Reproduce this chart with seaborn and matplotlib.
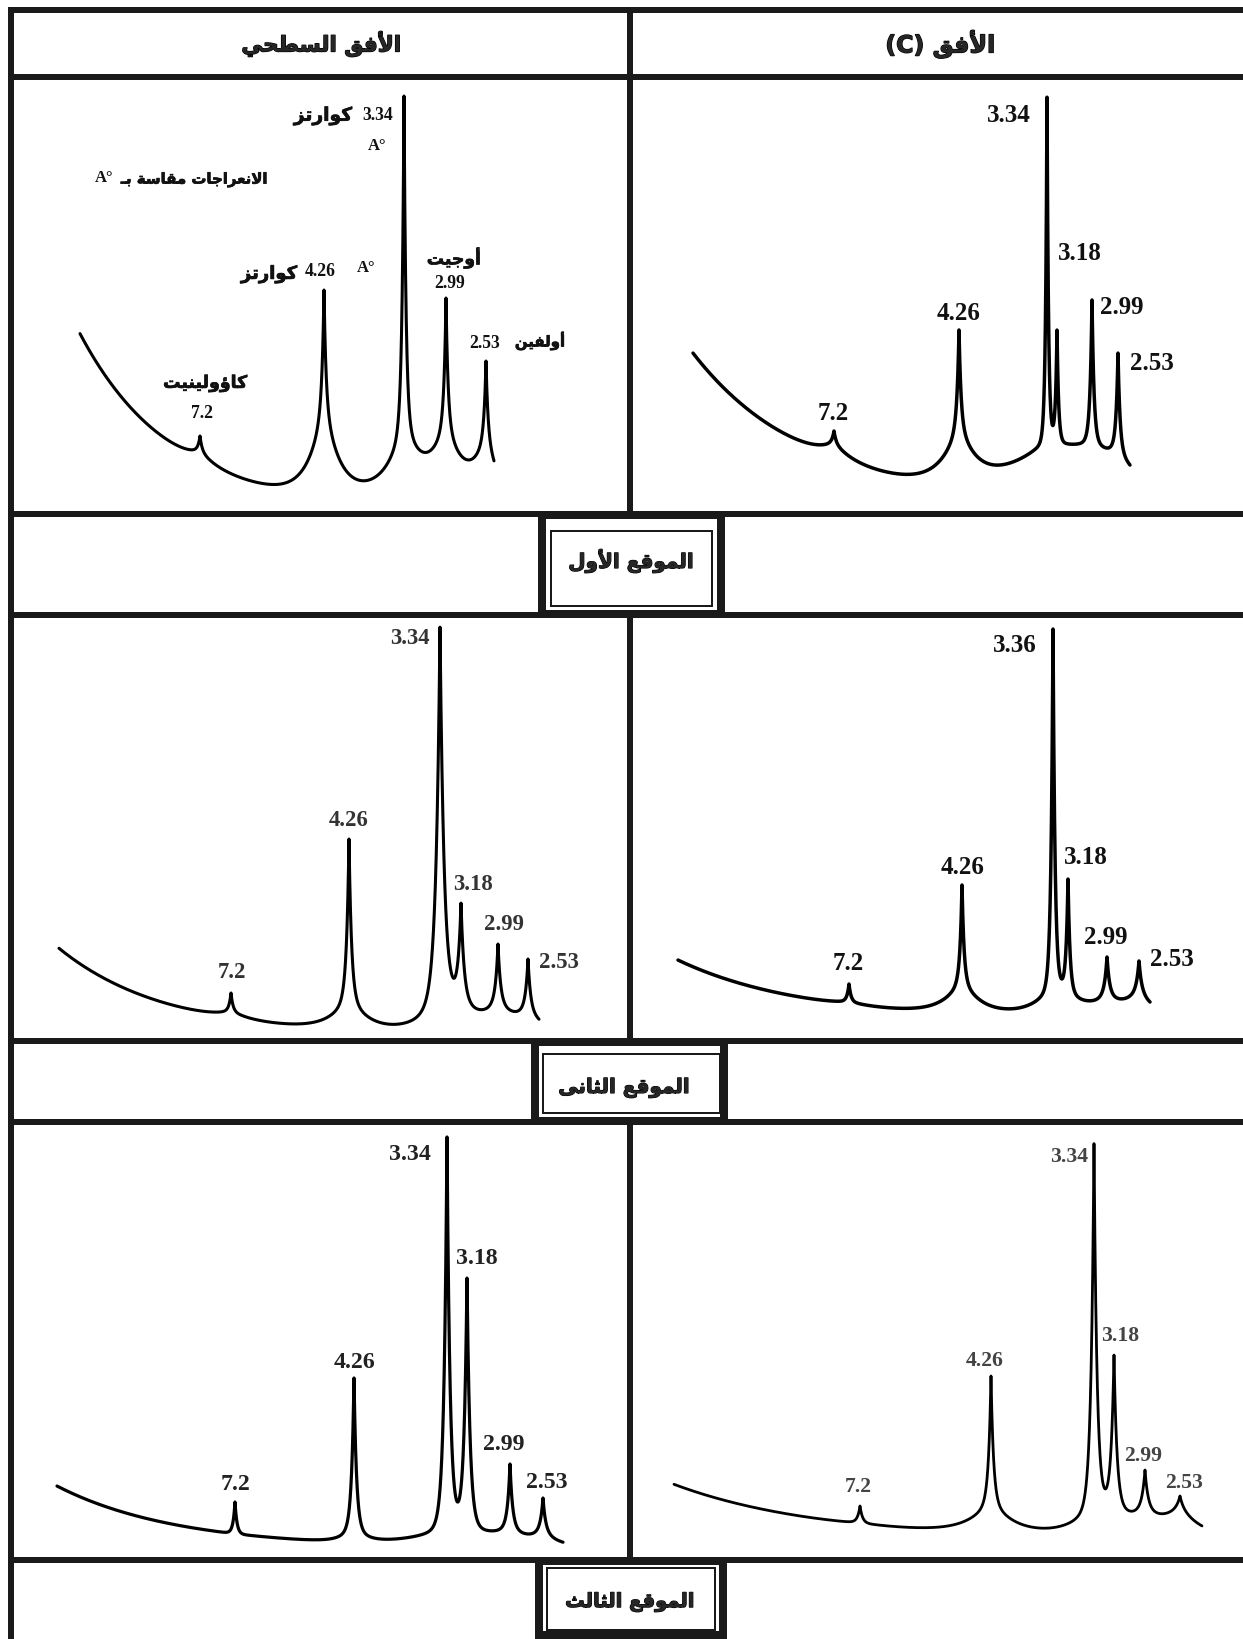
import re
import numpy as np
import matplotlib
matplotlib.use("Agg")
import matplotlib.pyplot as plt
import matplotlib.patheffects as pe
import seaborn as sns
from matplotlib.patches import Rectangle

# ----------------------------------------------------------------- data
HEADER_LEFT = "الأفق السطحي"
HEADER_RIGHT = "الأفق (C)"
SITE_LABELS = ["الموقع الأول", "الموقع الثانى", "الموقع الثالث"]
QUARTZ = "كوارتز"
AUGITE = "أوجيت"
OLIVINE = "أولفين"
KAOLINITE = "كاؤولينيت"
UNIT_NOTE = "الانعراجات مقاسة بـ"
UNIT = "A°"

# panel 1 : surface horizon, site 1   (position along trace, intensity)
P1_LABELS = ["7.2", "4.26", "3.34", "2.99", "2.53"]
P1_POS = [189, 313, 393, 435, 475]
P1_TOP = [78, 224, 418, 216, 153]
P1_BASE = [65, 116, 100, 100, 83]
P1_VALLEY_X = [175, 246, 358, 419, 462]
P1_VALLEY_I = [63, 27, 51, 51, 55]
P1_START = (69, 181)
P1_END = (483, 46)

# panel 2 : C horizon, site 1
P2_LABELS = ["7.2", "4.26", "3.34", "3.18", "2.99", "2.53"]
P2_POS = [204, 329, 417, 427, 462, 488]
P2_TOP = [83, 184, 417, 184, 214, 161]
P2_BASE = [72, 93, 80, 76, 76, 70]
P2_VALLEY_X = [188, 252, 369, 421, 445, 482]
P2_VALLEY_I = [73, 35, 60, 80, 65, 56]
P2_START = (63, 161)
P2_END = (500, 50)

# panel 3 : surface horizon, site 2
P3_LABELS = ["7.2", "4.26", "3.34", "3.18", "2.99", "2.53"]
P3_POS = [220, 338, 429, 450, 487, 517]
P3_TOP = [48, 202, 414, 138, 97, 82]
P3_BASE = [31, 48, 55, 48, 41, 34]
P3_VALLEY_X = [205, 271, 381, 440, 468, 503]
P3_VALLEY_I = [27, 16, 22, 55, 34, 29]
P3_START = (48, 93)
P3_END = (528, 20)

# panel 4 : C horizon, site 2
P4_LABELS = ["7.2", "4.26", "3.36", "3.18", "2.99", "2.53"]
P4_POS = [219, 332, 423, 438, 477, 509]
P4_TOP = [57, 156, 412, 162, 84, 80]
P4_BASE = [41, 64, 62, 55, 48, 50]
P4_VALLEY_X = [210, 264, 375, 431, 462, 496]
P4_VALLEY_I = [36, 27, 38, 49, 36, 43]
P4_START = (48, 82)
P4_END = (520, 47)

# panel 5 : surface horizon, site 3
P5_LABELS = ["7.2", "4.26", "3.34", "3.18", "2.99", "2.53"]
P5_POS = [224, 343, 436, 456, 499, 532]
P5_TOP = [58, 182, 423, 282, 96, 62]
P5_BASE = [27, 35, 42, 39, 35, 31]
P5_VALLEY_X = [215, 283, 389, 449, 477, 513]
P5_VALLEY_I = [23, 19, 20, 58, 32, 27]
P5_START = (46, 75)
P5_END = (552, 24)

# panel 6 : C horizon, site 3
P6_LABELS = ["7.2", "4.26", "3.34", "3.18", "2.99", "2.53"]
P6_POS = [230, 361, 464, 484, 515, 550]
P6_TOP = [54, 184, 417, 205, 90, 64]
P6_BASE = [39, 62, 69, 62, 54, 54]
P6_VALLEY_X = [220, 286, 409, 471, 500, 532]
P6_VALLEY_I = [33, 27, 37, 52, 46, 43]
P6_START = (44, 77)
P6_END = (572, 44)

# ----------------------------------------------------------------- layout / style
W, H = 1243, 1639
COLS = [(11, 630), (630, 1243)]
ROWS = [(77, 514), (615, 1041), (1122, 1560)]

STYLE = [
    dict(floor=0, s=15, hump=70, w=[2, 2, 2, 2, 2], lw=2.2, numw=31, col="#111111",
         off=[(2, 23), (-4, 18), (-26, -20), (4, 14), (-1, 17)]),
    dict(floor=5, s=18, hump=75, w=[2, 2, 1.5, 1.6, 2, 2], lw=2.5, numw=44, col="#111111",
         off=[(-1, 18), (0, 17), (-38, -19), (23, 76), (30, -8), (34, -10)]),
    dict(floor=5, s=18, hump=70, w=[2, 2.5, 4, 3, 2.5, 2.5], lw=2.2, numw=40, col="#333333",
         off=[(1, 20), (0, 18), (-30, -12), (12, 19), (6, 19), (31, -3)]),
    dict(floor=15, s=18, hump=75, w=[2, 2, 2, 2, 2.5, 2.5], lw=2.5, numw=44, col="#111111",
         off=[(-1, 20), (1, 17), (-38, -16), (18, 22), (-1, 19), (33, 1)]),
    dict(floor=10, s=12, hump=70, w=[2, 2.5, 3, 3, 2.5, 2.5], lw=2.3, numw=42, col="#222222",
         off=[(1, 17), (0, 15), (-37, -18), (10, 20), (-6, 20), (4, 16)]),
    dict(floor=15, s=22, hump=80, w=[2.5, 2.5, 3, 3, 3, 3], lw=2.0, numw=38, col="#444444",
         off=[(-2, 19), (-6, 15), (-25, -14), (6, 19), (-2, 14), (4, 13)]),
]

PANELS = [
    (P1_LABELS, P1_POS, P1_TOP, P1_BASE, P1_VALLEY_X, P1_VALLEY_I, P1_START, P1_END),
    (P2_LABELS, P2_POS, P2_TOP, P2_BASE, P2_VALLEY_X, P2_VALLEY_I, P2_START, P2_END),
    (P3_LABELS, P3_POS, P3_TOP, P3_BASE, P3_VALLEY_X, P3_VALLEY_I, P3_START, P3_END),
    (P4_LABELS, P4_POS, P4_TOP, P4_BASE, P4_VALLEY_X, P4_VALLEY_I, P4_START, P4_END),
    (P5_LABELS, P5_POS, P5_TOP, P5_BASE, P5_VALLEY_X, P5_VALLEY_I, P5_START, P5_END),
    (P6_LABELS, P6_POS, P6_TOP, P6_BASE, P6_VALLEY_X, P6_VALLEY_I, P6_START, P6_END),
]

# ----------------------------------------------------------------- arabic shaping
_FORMS = {
    0x0621: (0xFE80, None, None, None), 0x0622: (0xFE81, 0xFE82, None, None),
    0x0623: (0xFE83, 0xFE84, None, None), 0x0624: (0xFE85, 0xFE86, None, None),
    0x0625: (0xFE87, 0xFE88, None, None), 0x0626: (0xFE89, 0xFE8A, 0xFE8B, 0xFE8C),
    0x0627: (0xFE8D, 0xFE8E, None, None), 0x0628: (0xFE8F, 0xFE90, 0xFE91, 0xFE92),
    0x0629: (0xFE93, 0xFE94, None, None), 0x062A: (0xFE95, 0xFE96, 0xFE97, 0xFE98),
    0x062B: (0xFE99, 0xFE9A, 0xFE9B, 0xFE9C), 0x062C: (0xFE9D, 0xFE9E, 0xFE9F, 0xFEA0),
    0x062D: (0xFEA1, 0xFEA2, 0xFEA3, 0xFEA4), 0x062E: (0xFEA5, 0xFEA6, 0xFEA7, 0xFEA8),
    0x062F: (0xFEA9, 0xFEAA, None, None), 0x0630: (0xFEAB, 0xFEAC, None, None),
    0x0631: (0xFEAD, 0xFEAE, None, None), 0x0632: (0xFEAF, 0xFEB0, None, None),
    0x0633: (0xFEB1, 0xFEB2, 0xFEB3, 0xFEB4), 0x0634: (0xFEB5, 0xFEB6, 0xFEB7, 0xFEB8),
    0x0635: (0xFEB9, 0xFEBA, 0xFEBB, 0xFEBC), 0x0636: (0xFEBD, 0xFEBE, 0xFEBF, 0xFEC0),
    0x0637: (0xFEC1, 0xFEC2, 0xFEC3, 0xFEC4), 0x0638: (0xFEC5, 0xFEC6, 0xFEC7, 0xFEC8),
    0x0639: (0xFEC9, 0xFECA, 0xFECB, 0xFECC), 0x063A: (0xFECD, 0xFECE, 0xFECF, 0xFED0),
    0x0641: (0xFED1, 0xFED2, 0xFED3, 0xFED4), 0x0642: (0xFED5, 0xFED6, 0xFED7, 0xFED8),
    0x0643: (0xFED9, 0xFEDA, 0xFEDB, 0xFEDC), 0x0644: (0xFEDD, 0xFEDE, 0xFEDF, 0xFEE0),
    0x0645: (0xFEE1, 0xFEE2, 0xFEE3, 0xFEE4), 0x0646: (0xFEE5, 0xFEE6, 0xFEE7, 0xFEE8),
    0x0647: (0xFEE9, 0xFEEA, 0xFEEB, 0xFEEC), 0x0648: (0xFEED, 0xFEEE, None, None),
    0x0649: (0xFEEF, 0xFEF0, None, None), 0x064A: (0xFEF1, 0xFEF2, 0xFEF3, 0xFEF4),
}
_LAMALEF = {0x0622: (0xFEF5, 0xFEF6), 0x0623: (0xFEF7, 0xFEF8),
            0x0625: (0xFEF9, 0xFEFA), 0x0627: (0xFEFB, 0xFEFC)}
_TATWEEL = 0x0640


def _shape(s):
    units, i = [], 0
    while i < len(s):
        c = ord(s[i])
        if c == 0x0644 and i + 1 < len(s) and ord(s[i + 1]) in _LAMALEF:
            units.append(("LA", ord(s[i + 1])))
            i += 2
        else:
            units.append(("C", c))
            i += 1

    def jn(u):
        if u[0] == "LA":
            return False
        return u[1] == _TATWEEL or (u[1] in _FORMS and _FORMS[u[1]][2] is not None)

    def jp(u):
        return u[0] == "LA" or u[1] == _TATWEEL or u[1] in _FORMS

    out = []
    for k, u in enumerate(units):
        prv = units[k - 1] if k > 0 else None
        nxt = units[k + 1] if k + 1 < len(units) else None
        a = prv is not None and jn(prv) and jp(u)
        b = nxt is not None and jn(u) and jp(nxt)
        if u[0] == "LA":
            iso, fin = _LAMALEF[u[1]]
            out.append(chr(fin if a else iso))
            continue
        c = u[1]
        if c not in _FORMS:
            out.append(chr(c))
            continue
        iso, fin, ini, med = _FORMS[c]
        if a and b and med:
            out.append(chr(med))
        elif a and fin:
            out.append(chr(fin))
        elif b and ini:
            out.append(chr(ini))
        else:
            out.append(chr(iso))
    return "".join(out)


def ar(s):
    toks = re.findall(r"[A-Za-z0-9.°]+|.", _shape(s), flags=re.S)[::-1]
    mirror = {"(": ")", ")": "("}
    return "".join(mirror.get(t, t) for t in toks)


# ----------------------------------------------------------------- model curve
def nnls(A, b, maxiter=2000):
    m, n = A.shape
    P = np.zeros(n, bool)
    x = np.zeros(n)
    tol = 1e-10 * max(1.0, np.abs(A).max() * np.abs(b).max() * m)
    wv = A.T @ (b - A @ x)
    it = 0
    while (~P).any() and np.max(np.where(~P, wv, -np.inf)) > tol and it < maxiter:
        j = int(np.argmax(np.where(~P, wv, -np.inf)))
        P[j] = True
        while True:
            it += 1
            z = np.zeros(n)
            z[P] = np.linalg.lstsq(A[:, P], b, rcond=None)[0]
            if (z[P] > 0).all() or it > maxiter:
                break
            mask = P & (z <= 0)
            alpha = np.min(x[mask] / (x[mask] - z[mask]))
            x = x + alpha * (z - x)
            P &= x > 1e-12
            x[~P] = 0.0
        x = np.clip(z, 0, None)
        wv = A.T @ (b - A @ x)
    return x


def build_curve(pos, top, base, vx, vi, start, end, floor, s, w, hump):
    pos = np.asarray(pos, float)
    w = np.asarray(w, float)
    x0, i0 = start
    xe, ie = end
    k = int(np.argmin(vi))
    L = (vx[k] - x0) / np.log((i0 - floor) / max(vi[k] - floor, 1.0))
    n = len(pos)
    xc = pos[int(np.argmax(top))] + 20.0

    def basis(x, spikes=True):
        x = np.asarray(x, float)[:, None]
        d = np.abs(x - pos[None, :])
        sp = np.exp(-d / w[None, :]) if spikes else np.zeros_like(d)
        return np.hstack([np.ones_like(x), np.exp(-(x - x0) / L),
                          np.exp(-((x - xc) / hump) ** 2),
                          np.exp(-d / s), sp])

    rows = [basis([x0]), basis(vx), basis([xe]), basis(pos), basis(pos, spikes=False)]
    targ = [[i0], vi, [ie], top, base]
    wts = [[2.0], 2 * np.ones(len(vx)), [2.0], 5 * np.ones(n), 3 * np.ones(n)]
    B = np.vstack(rows)
    y = np.concatenate([np.asarray(t, float) for t in targ])
    wt = np.concatenate([np.asarray(t, float) for t in wts])
    coef = nnls(B * wt[:, None], y * wt)
    xs = np.union1d(np.linspace(x0, xe, 5000), pos)
    return xs, basis(xs) @ coef


# ----------------------------------------------------------------- figure
sns.set_theme(style="white")
plt.rcParams["font.family"] = ["DejaVu Sans"]
fig = plt.figure(figsize=(W / 100, H / 100), dpi=100)
renderer = fig.canvas.get_renderer()
PX = 0.72  # points per pixel

bg = fig.add_axes([0, 0, 1, 1], zorder=0)
bg.set_xlim(0, W)
bg.set_ylim(H, 0)
bg.axis("off")


def fit_width(t, target):
    bb = t.get_window_extent(renderer)
    if bb.width > 0:
        t.set_fontsize(t.get_fontsize() * target / bb.width)


def bold_fx(lw, col="black"):
    return [pe.withStroke(linewidth=lw, foreground=col)]


# table lines
LWT = 6 * PX
bg.plot([8, W], [10, 10], color="k", lw=LWT, solid_capstyle="butt")
bg.plot([11, 11], [7, H], color="k", lw=LWT, solid_capstyle="butt")
for yy in [77, 514, 615, 1041, 1122, 1560]:
    bg.plot([8, W], [yy, yy], color="k", lw=LWT, solid_capstyle="butt")
for (ya, yb) in [(7, 517), (612, 1044), (1119, 1563)]:
    bg.plot([630, 630], [ya, yb], color="k", lw=LWT, solid_capstyle="butt")

# header texts
t = bg.text(321, 44, ar(HEADER_LEFT), ha="center", va="center", fontsize=15,
            fontweight="bold", family=["DejaVu Sans"], path_effects=bold_fx(0.9))
fit_width(t, 160)
t = bg.text(940, 44, ar(HEADER_RIGHT), ha="center", va="center", fontsize=15,
            fontweight="bold", family=["DejaVu Sans"], path_effects=bold_fx(0.9))
fit_width(t, 110)

# site label boxes
BOX_OUT = [(542, 515, 721, 614), (535, 1042, 724, 1121), (539, 1561, 723, 1635)]
BOX_IN = [(551, 531, 712, 606), (543, 1054, 720, 1113), (547, 1568, 715, 1630)]
BOX_TXT = [(631, 561, 126), (624, 1088, 132), (630, 1602, 130)]
for (a, b, c, d), (e, f, g, h), (tx, ty, tw), lab in zip(BOX_OUT, BOX_IN, BOX_TXT, SITE_LABELS):
    bg.add_patch(Rectangle((a, b), c - a, d - b, facecolor="white", edgecolor="k",
                           lw=8 * PX, zorder=3, joinstyle="miter"))
    bg.add_patch(Rectangle((e, f), g - e, h - f, facecolor="none", edgecolor="k",
                           lw=2 * PX, zorder=4, joinstyle="miter"))
    t = bg.text(tx, ty, ar(lab), ha="center", va="center", fontsize=14,
                fontweight="bold", family=["DejaVu Sans"], zorder=5,
                path_effects=bold_fx(0.8))
    fit_width(t, tw)

# panels
for idx, (panel, st) in enumerate(zip(PANELS, STYLE)):
    labels, pos, top, base, vx, vi, start, end = panel
    r, c = divmod(idx, 2)
    (x0, x1), (y0, y1) = COLS[c], ROWS[r]
    ax = fig.add_axes([x0 / W, 1 - y1 / H, (x1 - x0) / W, (y1 - y0) / H], zorder=2)
    ax.patch.set_alpha(0)
    xs, ys = build_curve(pos, top, base, vx, vi, start, end, st["floor"], st["s"],
                         st["w"], st["hump"])
    sns.lineplot(x=xs, y=ys, ax=ax, color="black", lw=st["lw"], estimator=None,
                 sort=False, legend=False)
    ax.set_xlim(0, x1 - x0)
    ax.set_ylim(0, y1 - y0)
    ax.set_axis_off()

    texts = []
    for lab, px_, tp, (dx, dy) in zip(labels, pos, top, st["off"]):
        texts.append(ax.text(px_ + dx, tp + dy, lab, ha="center", va="center",
                             fontsize=14, fontweight="bold", color=st["col"],
                             family=["Liberation Serif"]))
    widest = max(texts, key=lambda tt: len(tt.get_text()))
    scale = st["numw"] / widest.get_window_extent(renderer).width
    for tt in texts:
        tt.set_fontsize(tt.get_fontsize() * scale)

    if idx == 0:
        ann = [(QUARTZ, 312, 398, 58), (QUARTZ, 258, 240, 56), (AUGITE, 443, 256, 54),
               (OLIVINE, 529, 173, 50), (KAOLINITE, 194, 131, 84), (UNIT_NOTE, 183, 334, 146)]
        for s_, ax_x, ax_y, tw in ann:
            t = ax.text(ax_x, ax_y, ar(s_), ha="center", va="center", fontsize=11,
                        fontweight="bold", color="#111111", family=["DejaVu Sans"],
                        path_effects=bold_fx(0.5, "#111111"))
            fit_width(t, tw)
        for ax_x, ax_y in [(366, 368), (355, 246), (93, 336)]:
            ax.text(ax_x, ax_y, UNIT, ha="center", va="center", fontsize=12,
                    fontweight="bold", color="#111111", family=["Liberation Serif"])

fig.savefig("out.png", dpi=100)
